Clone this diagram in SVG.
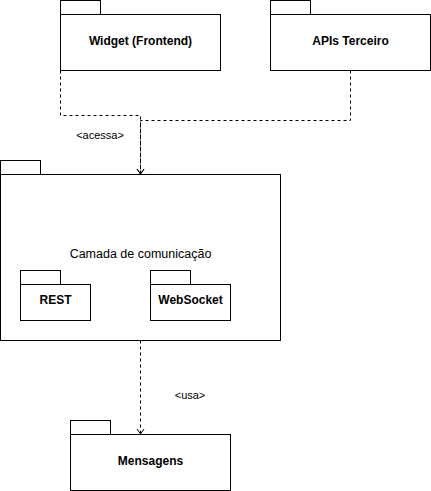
<svg xmlns="http://www.w3.org/2000/svg" width="431" height="491" viewBox="0 0 431 491">
<style>
.box{fill:#fff;stroke:#000;stroke-width:1}
.t{font-family:"Liberation Sans",Arial,sans-serif;font-size:12px;fill:#000;text-anchor:middle;dominant-baseline:central}
.b{font-weight:bold}
.lbl{font-family:"Liberation Sans",Arial,sans-serif;font-size:11px;fill:#000;text-anchor:middle;dominant-baseline:central}
.e{fill:none;stroke:#000;stroke-width:1;stroke-dasharray:3 3}
</style>
<defs>
<marker id="open" markerWidth="10" markerHeight="10" refX="8" refY="5" orient="auto" markerUnits="userSpaceOnUse">
<path d="M3,1.5 L8,5 L3,8.5" fill="none" stroke="#000" stroke-width="1"/>
</marker>
</defs>
<rect width="431" height="491" fill="#fff"/>
<g id="widget">
<rect class="box" x="60.5" y="0.5" width="40" height="14"/>
<rect class="box" x="60.5" y="14.5" width="160" height="56"/>
<text class="t b" x="140.5" y="41">Widget (Frontend)</text>
</g>
<g id="apis">
<rect class="box" x="270.5" y="0.5" width="40" height="14"/>
<rect class="box" x="270.5" y="14.5" width="160" height="56"/>
<text class="t b" x="350.5" y="41">APIs Terceiro</text>
</g>
<g id="camada">
<rect class="box" x="0.5" y="160.5" width="40" height="14"/>
<rect class="box" x="0.5" y="174.5" width="280" height="166"/>
<text class="t" x="140.5" y="254" style="font-size:12.5px">Camada de comunicação</text>
</g>
<g id="rest">
<rect class="box" x="20.5" y="270.5" width="40" height="14"/>
<rect class="box" x="20.5" y="284.5" width="70" height="36"/>
<text class="t b" x="55.5" y="300">REST</text>
</g>
<g id="websocket">
<rect class="box" x="150.5" y="270.5" width="40" height="14"/>
<rect class="box" x="150.5" y="284.5" width="80" height="36"/>
<text class="t b" x="190.5" y="300">WebSocket</text>
</g>
<g id="mensagens">
<rect class="box" x="70.5" y="420.5" width="40" height="14"/>
<rect class="box" x="70.5" y="434.5" width="160" height="56"/>
<text class="t b" x="150.5" y="460.5">Mensagens</text>
</g>
<g id="connectors">
<path class="e" d="M60.5,70.5 V115.5 H140.5 V174" marker-end="url(#open)"/>
<path class="e" d="M350.5,70.5 V120.5 H140.5 V174" marker-end="url(#open)"/>
<path class="e" d="M140.5,340.5 V434" marker-end="url(#open)"/>
<text class="lbl" x="100" y="135">&lt;acessa&gt;</text>
<text class="lbl" x="190" y="395">&lt;usa&gt;</text>
</g>
</svg>
